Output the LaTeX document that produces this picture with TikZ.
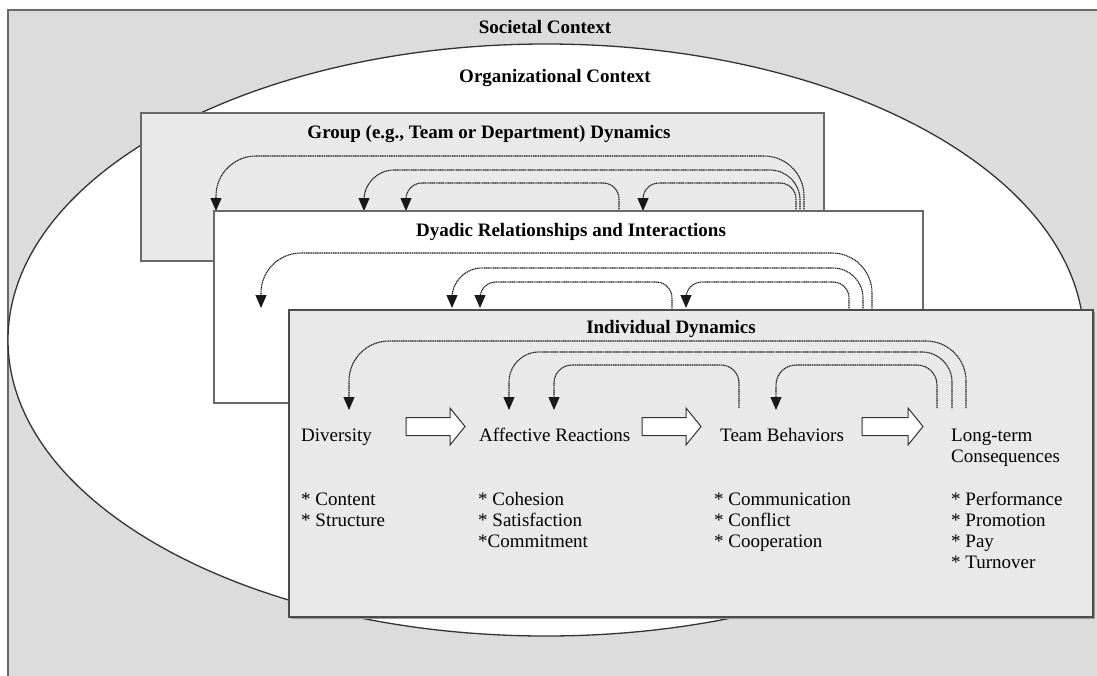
\documentclass[tikz,border=0pt]{standalone}
\usepackage{fontspec}
\setmainfont{Liberation Serif}
\usetikzlibrary{arrows.meta}
\definecolor{ctxgray}{RGB}{220,220,220}
\definecolor{boxgray}{RGB}{233,233,233}
\definecolor{edgegray}{RGB}{105,105,105}
\newcommand\fbarc[4]{\draw[fbline, rounded corners=#4] (#1) -- ++(0,-#3) -| (#2);}
\newcommand\blockarr[3]{\draw[barrow] (#1,#2-9) -- (#1+#3-15,#2-9) -- (#1+#3-15,#2-18.5) -- (#1+#3,#2) -- (#1+#3-15,#2+18.5) -- (#1+#3-15,#2+9) -- (#1,#2+9) -- cycle;}
\begin{document}
\begin{tikzpicture}[x=1pt,y=-1pt,
  lbl/.style={font=\fontsize{19}{21}\selectfont, inner sep=0pt, anchor=base west},
  ttl/.style={font=\fontsize{19}{21}\selectfont\bfseries, inner sep=0pt, anchor=base},
  fbline/.style={draw=black!90, line width=1.1pt, dash pattern=on 1.2pt off 0.6pt, -{Triangle[width=11pt,length=13pt]}},
  barrow/.style={draw=black!80, fill=white, line width=1pt}]
\fill[white] (0,0) rectangle (1097,675);
\useasboundingbox (0,0) rectangle (1097,675);
\clip (0,0) rectangle (1097,675);
% contexts
\draw[fill=ctxgray, draw=edgegray, line width=1.6pt] (8,10) rectangle (1115,695);
\draw[fill=white, draw=black!80, line width=1.3pt] (546,340) ellipse [x radius=538, y radius=296];
\node[ttl] (soc) at (545,33) {Societal Context};
\node[ttl] (org) at (555,82) {Organizational Context};
% group level
\draw[fill=boxgray, draw=edgegray, line width=1.3pt] (141,113) rectangle (824,261);
\node[ttl] (grpT) at (489,138) {Group (e.g., Team or Department) Dynamics};
\coordinate (gDiv) at (216,211);
\coordinate (gAffA) at (364,211);
\coordinate (gAffB) at (406,211);
\coordinate (gTB) at (643,211);
\coordinate (gTBs) at (619,211);
\coordinate (gLTa) at (796,211);
\coordinate (gLTb) at (800,211);
\coordinate (gLTc) at (804,211);
\fbarc{gLTc}{gDiv}{55}{40}
\fbarc{gLTb}{gAffA}{41}{30}
\fbarc{gLTa}{gTB}{28}{16}
\fbarc{gTBs}{gAffB}{28}{16}
% dyadic level
\draw[fill=white, draw=edgegray, line width=1.2pt] (214,211) rectangle (923,403);
\node[ttl] (dyaT) at (571,236) {Dyadic Relationships and Interactions};
\coordinate (dDiv) at (261,308);
\coordinate (dAffA) at (452,308);
\coordinate (dAffB) at (480,308);
\coordinate (dTB) at (686,308);
\coordinate (dTBs) at (672,310);
\coordinate (dLTa) at (849,310);
\coordinate (dLTb) at (863,310);
\coordinate (dLTc) at (872,310);
\fbarc{dLTc}{dDiv}{57}{40}
\fbarc{dLTb}{dAffA}{42}{30}
\fbarc{dLTa}{dTB}{28}{16}
\fbarc{dTBs}{dAffB}{28}{16}
% individual level
\fill[black!40] (291,312) rectangle (1095,619);
\draw[fill=boxgray, draw=black!70, line width=1.6pt] (289,310) rectangle (1093,617);
\node[ttl] (indT) at (671,333) {Individual Dynamics};
\coordinate (iDiv) at (349,410);
\coordinate (iAffA) at (509,410);
\coordinate (iAffB) at (554,410);
\coordinate (iTB) at (776,410);
\coordinate (iTBs) at (739,408);
\coordinate (iLTa) at (937,408);
\coordinate (iLTb) at (952,408);
\coordinate (iLTc) at (966,408);
\fbarc{iLTc}{iDiv}{67}{40}
\fbarc{iLTb}{iAffA}{56}{30}
\fbarc{iLTa}{iTB}{43}{20}
\fbarc{iTBs}{iAffB}{43}{18}
% stage labels
\node[lbl] (div) at (301,441) {Diversity};
\node[lbl] (aff) at (479,441) {Affective Reactions};
\node[lbl] (tb) at (720,441) {Team Behaviors};
\node[lbl] (lt) at (951,441) {Long-term};
\node[lbl] (lt2) at (951,462) {Consequences};
% block arrows
\blockarr{406}{426.5}{59}
\blockarr{642}{426.5}{59}
\blockarr{862}{426.5}{61}
% lists
\node[lbl] (d1) at (301,505) {* Content};
\node[lbl] (d2) at (301,526) {* Structure};
\node[lbl] (a1) at (478,505) {* Cohesion};
\node[lbl] (a2) at (478,526) {* Satisfaction};
\node[lbl] (a3) at (478,547) {*Commitment};
\node[lbl] (t1) at (714,505) {* Communication};
\node[lbl] (t2) at (714,526) {* Conflict};
\node[lbl] (t3) at (714,547) {* Cooperation};
\node[lbl] (l1) at (951,505) {* Performance};
\node[lbl] (l2) at (951,526) {* Promotion};
\node[lbl] (l3) at (951,547) {* Pay};
\node[lbl] (l4) at (951,568) {* Turnover};
\end{tikzpicture}
\end{document}
